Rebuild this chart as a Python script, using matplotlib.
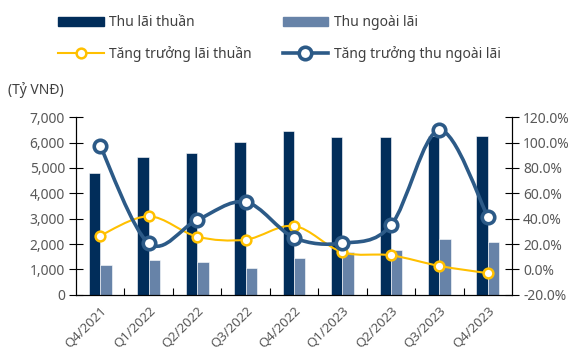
import numpy as np
import matplotlib
matplotlib.use("Agg")
import matplotlib.pyplot as plt
from matplotlib.path import Path
from matplotlib.patches import PathPatch
from matplotlib.lines import Line2D
from matplotlib.patches import Patch

plt.rcParams['font.family'] = ['Noto Sans', 'DejaVu Sans']

quarters = ['Q4/2021', 'Q1/2022', 'Q2/2022', 'Q3/2022', 'Q4/2022',
            'Q1/2023', 'Q2/2023', 'Q3/2023', 'Q4/2023']
thu_lai_thuan = [4800, 5420, 5590, 6010, 6440, 6200, 6230, 6250, 6270]
thu_ngoai_lai = [1170, 1390, 1290, 1040, 1460, 1680, 1760, 2200, 2070]
tang_truong_lt = [26.7, 41.9, 25.9, 23.5, 34.3, 13.6, 11.2, 2.8, -2.9]
tang_truong_nl = [97.2, 20.7, 39.0, 53.2, 25.1, 20.7, 34.8, 109.8, 41.6]

DARK = '#012d5a'
LIGHT = '#6783a8'
YELLOW = '#ffc000'
BLUE = '#2c5a87'
TXT = '#595959'


def smooth_path(x, y):
    # excel-style smoothed line: catmull-rom -> cubic bezier
    p = np.column_stack([x, y]).astype(float)
    ext = np.vstack([p[0], p, p[-1]])
    verts = [p[0]]
    codes = [Path.MOVETO]
    for i in range(len(p) - 1):
        p0, p1, p2, p3 = ext[i], ext[i + 1], ext[i + 2], ext[i + 3]
        verts += [p1 + (p2 - p0) / 6, p2 - (p3 - p1) / 6, p2]
        codes += [Path.CURVE4] * 3
    return Path(verts, codes)


fig = plt.figure(figsize=(5.76, 3.54), dpi=100)
ax = fig.add_axes([0.132, 0.167, 0.757, 0.502])
ax2 = ax.twinx()

x = np.arange(len(quarters))
w = 0.235
ax.bar(x - w / 2, thu_lai_thuan, w, color=DARK, edgecolor='white', linewidth=0.4)
ax.bar(x + w / 2, thu_ngoai_lai, w, color=LIGHT, edgecolor='white', linewidth=0.4)

ax.set_xlim(-0.5, len(quarters) - 0.5)
ax.set_ylim(0, 7000)
ax.set_yticks(range(0, 7001, 1000))
ax.set_yticklabels([f'{v:,}' for v in range(0, 7001, 1000)])
ax.set_xticks(x)
ax.set_xticklabels(quarters, rotation=45, ha='right', rotation_mode='anchor')
ax.tick_params(axis='x', length=0, pad=7, labelsize=9.5, labelcolor=TXT)
ax.set_xticks(np.arange(0.5, len(quarters) - 1, 1), minor=True)
ax.tick_params(axis='x', which='minor', direction='in', length=5, width=0.8)
ax.tick_params(axis='y', direction='inout', length=10, width=0.8, labelsize=10, labelcolor=TXT, pad=3)

ax2.set_ylim(-20, 120)
ax2.set_yticks(range(-20, 121, 20))
ax2.set_yticklabels([f'{v:.1f}%' for v in range(-20, 121, 20)])
ax2.tick_params(axis='y', direction='inout', length=10, width=0.8, labelsize=10, labelcolor=TXT, pad=3)

for a in (ax, ax2):
    a.spines['top'].set_visible(False)
    for s in ('left', 'right', 'bottom'):
        a.spines[s].set_linewidth(0.8)

ax2.add_patch(PathPatch(smooth_path(x, tang_truong_lt), fill=False, edgecolor=YELLOW, lw=1.5, zorder=3))
ax2.plot(x, tang_truong_lt, 'o', ms=7, mfc='white', mec=YELLOW, mew=1.8, zorder=4)
ax2.add_patch(PathPatch(smooth_path(x, tang_truong_nl), fill=False, edgecolor=BLUE, lw=2.6, zorder=5))
ax2.plot(x, tang_truong_nl, 'o', ms=9, mfc='white', mec=BLUE, mew=2.6, zorder=6)

handles = [Patch(color=DARK),
           Line2D([], [], color=YELLOW, lw=1.5, marker='o', ms=7, mfc='white', mec=YELLOW, mew=1.8),
           Patch(color=LIGHT),
           Line2D([], [], color=BLUE, lw=2.6, marker='o', ms=9, mfc='white', mec=BLUE, mew=2.6)]
labels = ['Thu lãi thuần', 'Tăng trưởng lãi thuần', 'Thu ngoài lãi', 'Tăng trưởng thu ngoài lãi']
leg = fig.legend(handles, labels, ncol=2, loc='upper left', bbox_to_anchor=(0.079, 0.992),
                 frameon=False, fontsize=10, handlelength=3.3, columnspacing=2.2,
                 labelspacing=1.15, handletextpad=0.4)
for t in leg.get_texts():
    t.set_color('#404040')

fig.text(0.014, 0.745, '(Tỷ VNĐ)', fontsize=10, color='#404040', va='center')

fig.savefig('out.png', dpi=100)
